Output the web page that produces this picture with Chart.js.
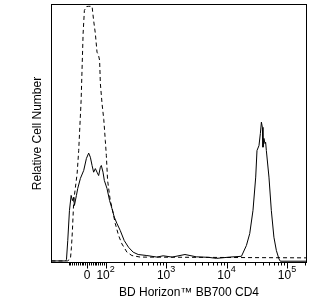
<!DOCTYPE html>
<html>
<head>
<meta charset="utf-8">
<script src="https://cdn.jsdelivr.net/npm/chart.js@4/dist/chart.umd.min.js"></script>
<style>
html, body { margin: 0; padding: 0; background: #fff; }
</style>
</head>
<body>
<canvas id="myChart" width="310" height="305"></canvas>
<script>
// x is in display units of the biexponential axis (1 unit = 1 decade above 10^2)
solid_x = [1.105, 1.340, 1.353, 1.374, 1.402, 1.430, 1.451, 1.473, 1.484, 1.517, 1.539, 1.583, 1.638, 1.682, 1.720, 1.748, 1.776, 1.802, 1.830, 1.858, 1.885, 1.913, 1.929, 1.957, 1.979, 2.023, 2.066, 2.105, 2.143, 2.188, 2.242, 2.308, 2.379, 2.456, 2.539, 2.682, 2.850, 2.951, 3.100, 3.313, 3.500, 3.700, 3.835, 4.054, 4.247, 4.329, 4.384, 4.438, 4.483, 4.504, 4.537, 4.560, 4.577, 4.593, 4.603, 4.619, 4.636, 4.647, 4.659, 4.702, 4.741, 4.784, 4.824, 4.867, 4.890, 5.323]
solid_y = [0.6, 0.6, 1.2, 8.5, 20.2, 26.0, 24.0, 25.3, 22.1, 26.0, 28.7, 32.6, 35.7, 40.3, 42.4, 40.8, 37.6, 35.0, 36.4, 35.0, 33.7, 36.9, 37.6, 35.0, 31.8, 28.7, 24.0, 20.9, 17.6, 15.1, 12.4, 8.5, 5.9, 4.0, 3.1, 2.7, 2.1, 2.6, 2.1, 3.1, 2.2, 2.0, 1.6, 2.1, 2.4, 6.6, 11.2, 20.2, 33.1, 43.4, 45.3, 50.0, 54.4, 52.4, 44.7, 48.1, 46.1, 46.6, 43.4, 33.1, 20.2, 9.8, 4.7, 1.4, 0.5, 0.5]

dashed_x = [1.105, 1.369, 1.418, 1.435, 1.451, 1.473, 1.501, 1.529, 1.555, 1.575, 1.595, 1.628, 1.649, 1.682, 1.720, 1.776, 1.802, 1.830, 1.858, 1.880, 1.901, 1.913, 1.941, 1.970, 1.995, 2.012, 2.033, 2.077, 2.105, 2.160, 2.214, 2.270, 2.353, 2.435, 2.572, 5.323]
dashed_y = [0.6, 0.6, 1.4, 5.9, 12.4, 24.0, 29.2, 34.5, 43.4, 53.1, 62.8, 88.8, 97.7, 99.2, 99.3, 99.3, 93.8, 88.8, 81.5, 80.6, 78.3, 69.4, 61.6, 55.4, 47.3, 41.5, 31.8, 24.0, 21.4, 15.1, 10.5, 7.2, 4.0, 2.7, 2.1, 1.8]

zero_pos = 1.694
x_min = 1.105
x_max = 5.323
tick_values = [zero_pos, 2, 3, 4, 5]
tick_base = ['0', '10', '10', '10', '10']
tick_exp = ['', '2', '3', '4', '5']
minor_intensities = [-100, -90, -80, -70, -60, -50, -40, -30, -20, -10, 10, 20, 30, 40, 50, 60, 70, 80, 90,
	200, 300, 400, 500, 600, 700, 800, 900,
	2000, 3000, 4000, 5000, 6000, 7000, 8000, 9000,
	20000, 30000, 40000, 50000, 60000, 70000, 80000, 90000, 200000]

x_title = 'BD Horizon\u2122 BB700 CD4'
y_title = 'Relative Cell Number'
font_family = '"Liberation Sans", Arial, sans-serif'


function to_axis(v){
	if (v >= 100) return Math.log10(v);
	return zero_pos + (2 - zero_pos) * v / 100;
}

function points(xs, ys){
	var out = [];
	xs.forEach(function(x, i) {
		out.push({x: x, y: ys[i]});
	});
	return out;
}

// box round the plot, tick marks, 10^n labels with real superscripts, x title
var frame = {
	id: 'frame',
	afterDraw: function(chart) {
		var ctx = chart.ctx;
		var a = chart.chartArea;
		var xs = chart.scales.x;
		ctx.save();
		ctx.strokeStyle = '#000';
		ctx.lineWidth = 1;
		ctx.strokeRect(a.left, a.top, a.right - a.left, a.bottom - a.top);
		ctx.beginPath();
		minor_intensities.forEach(function(v) {
			var u = to_axis(v);
			if (u < x_min || u > x_max) return;
			var px = Math.round(xs.getPixelForValue(u)) + 0.5;
			ctx.moveTo(px, a.bottom);
			ctx.lineTo(px, a.bottom + 3);
		});
		tick_values.forEach(function(v) {
			var px = Math.round(xs.getPixelForValue(v)) + 0.5;
			ctx.moveTo(px, a.bottom);
			ctx.lineTo(px, a.bottom + 6);
		});
		ctx.stroke();

		ctx.fillStyle = '#000';
		ctx.textAlign = 'left';
		ctx.textBaseline = 'alphabetic';
		tick_values.forEach(function(v, i) {
			var px = xs.getPixelForValue(v);
			ctx.font = '12px ' + font_family;
			var wb = ctx.measureText(tick_base[i]).width;
			ctx.font = '9px ' + font_family;
			var we = ctx.measureText(tick_exp[i]).width;
			var x0 = px - (wb + we) / 2;
			ctx.font = '12px ' + font_family;
			ctx.fillText(tick_base[i], x0, 279);
			ctx.font = '9px ' + font_family;
			ctx.fillText(tick_exp[i], x0 + wb, 272);
		});

		ctx.font = '12px ' + font_family;
		ctx.textAlign = 'center';
		ctx.textBaseline = 'middle';
		ctx.fillText(x_title, (a.left + a.right) / 2 + 10, 293);
		ctx.restore();
	}
};

function load_chart(){
	var ctx = document.getElementById('myChart').getContext('2d');
	new Chart(ctx, {
		type: 'line',
		data: {
			datasets: [{
				data: points(dashed_x, dashed_y),
				borderColor: '#000',
				borderWidth: 1,
				borderDash: [4, 3],
				pointRadius: 0,
				tension: 0
			}, {
				data: points(solid_x, solid_y),
				borderColor: '#000',
				borderWidth: 1,
				pointRadius: 0,
				tension: 0
			}]
		},
		options: {
			responsive: false,
			animation: false,
			devicePixelRatio: 1,
			layout: {padding: {left: 0, top: 4.5, right: 3.5, bottom: 0}},
			plugins: {legend: {display: false}, tooltip: {enabled: false}},
			scales: {
				x: {
					type: 'linear',
					min: x_min,
					max: x_max,
					afterBuildTicks: function(scale) {
						scale.ticks = tick_values.map(function(v) { return {value: v}; });
					},
					afterFit: function(scale) { scale.height = 42.5; },
					grid: {display: false},
					border: {display: false},
					ticks: {display: false, autoSkip: false, maxRotation: 0}
				},
				y: {
					min: 0,
					max: 100,
					afterFit: function(scale) { scale.width = 51.5; },
					grid: {display: false},
					border: {display: false},
					ticks: {display: false},
					title: {
						display: true,
						text: y_title,
						color: '#000',
						font: {family: font_family, size: 12},
						padding: {top: 30, bottom: 0}
					}
				}
			}
		},
		plugins: [frame]
	});
}

load_chart()
</script>
</body>
</html>
